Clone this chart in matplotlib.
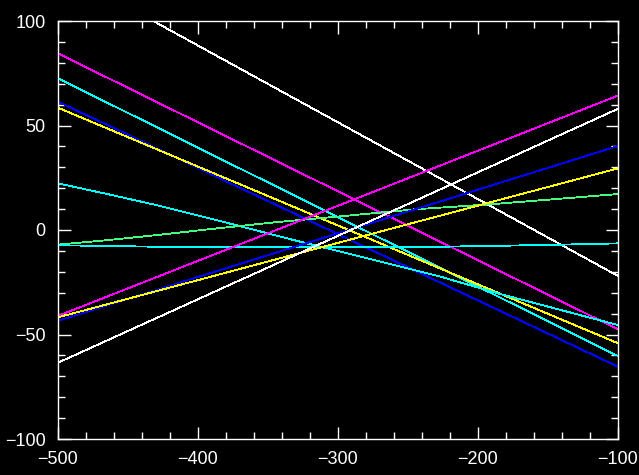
import numpy as np
import matplotlib
matplotlib.use("Agg")
import matplotlib.pyplot as plt
from matplotlib.ticker import MultipleLocator

# x range of every trace
x_ends = [-500, -100]

# straight traces, values at x = -500 and x = -100
white_dn = [125.0, -22.0]
magenta_dn = [84.5, -47.5]
cyan_dn = [72.6, -60.3]
blue_dn = [61.4, -65.4]
yellow_dn = [58.5, -54.2]
magenta_up = [-41.1, 64.3]
yellow_up = [-41.8, 29.5]
blue_up = [-43.4, 40.2]
white_up = [-63.5, 58.0]

cyan_curve_x = [-500, -464, -429, -393, -327, -298, -227, -182, -100]
cyan_curve_y = [22.3, 17.1, 11.8, 5.8, -5.6, -10.4, -22.3, -31.0, -45.5]

green_x = [-500, -464, -429, -393, -345, -291, -245, -191, -100]
green_y = [-7.0, -4.8, -2.4, 0.3, 3.7, 7.0, 9.9, 12.3, 17.2]

flat_x = [-500, -470, -400, -300, -226, -180, -140, -100]
flat_y = [-7.3, -7.6, -8.3, -8.3, -8.0, -7.5, -7.0, -6.4]

plt.rcParams['font.family'] = ['Liberation Sans', 'DejaVu Sans']

fig = plt.figure(figsize=(6.39, 4.75), dpi=100, facecolor='black')
ax = fig.add_axes([58/639, 36/475, 560/639, 418/475], facecolor='black')

kw = dict(lw=0.6, antialiased=False)
ax.plot(x_ends, white_dn, color='white', **kw)
ax.plot(x_ends, magenta_dn, color='#ff00ff', **kw)
ax.plot(x_ends, cyan_dn, color='#00ffff', **kw)
ax.plot(x_ends, blue_dn, color='#0000ff', **kw)
ax.plot(x_ends, yellow_dn, color='#ffff00', **kw)
ax.plot(cyan_curve_x, cyan_curve_y, color='#00ffff', **kw)
ax.plot(green_x, green_y, color='#40ff80', **kw)
ax.plot(flat_x, flat_y, color='#00ffff', **kw)
ax.plot(x_ends, magenta_up, color='#ff00ff', **kw)
ax.plot(x_ends, blue_up, color='#0000ff', **kw)
ax.plot(x_ends, yellow_up, color='#ffff00', **kw)
ax.plot(x_ends, white_up, color='white', **kw)

ax.set_xlim(-500, -100)
ax.set_ylim(-100, 100)
ax.xaxis.set_major_locator(MultipleLocator(100))
ax.xaxis.set_minor_locator(MultipleLocator(20))
ax.yaxis.set_major_locator(MultipleLocator(50))
ax.yaxis.set_minor_locator(MultipleLocator(10))

for s in ax.spines.values():
    s.set_color('white')
    s.set_linewidth(1.0)

ax.tick_params(which='both', direction='in', top=True, right=True,
               colors='white', width=1.0)
ax.tick_params(which='major', length=9, labelsize=13, pad=9)
ax.tick_params(which='minor', length=5)

fig.savefig('out.png', dpi=100, facecolor='black')
